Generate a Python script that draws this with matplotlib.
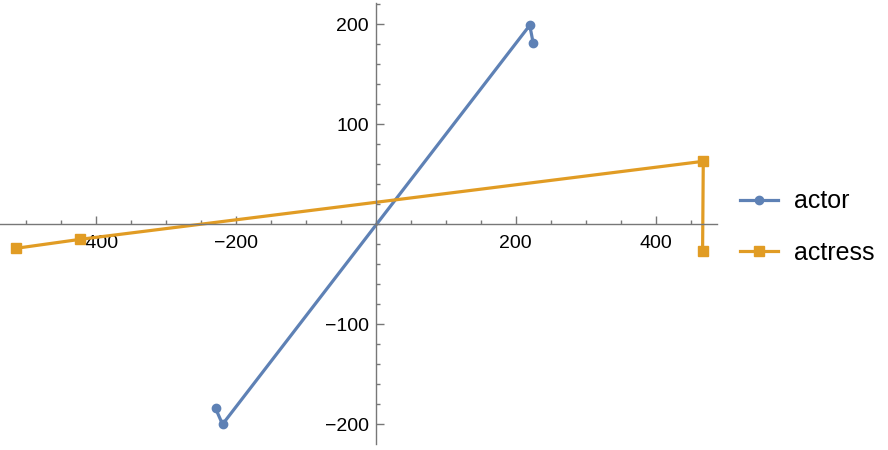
# recria o grafico actor / actress com eixos cruzando na origem
import matplotlib.pyplot as plt
from matplotlib.ticker import MultipleLocator

# dados
actor_x = [-229, -219, 220, 225]
actor_y = [-184, -200, 199, 181]
actress_x = [-514, -422, 468, 467]
actress_y = [-24, -15, 63, -27]

xticks = [-400, -200, 200, 400]
yticks = [-200, -100, 100, 200]

cor_actor = '#5E81B5'
cor_actress = '#E19C24'
cor_eixo = '#777777'

plt.rcParams['font.family'] = ['Liberation Sans', 'DejaVu Sans']

fig = plt.figure(figsize=(8.88, 4.5), dpi=100)
ax = fig.add_axes([0, 6 / 450, 717 / 888, 441 / 450])

ax.plot(actor_x, actor_y, color=cor_actor, lw=2.3, marker='o', ms=6,
        label='actor')
ax.plot(actress_x, actress_y, color=cor_actress, lw=2.3, marker='s', ms=7,
        label='actress')

ax.set_xlim(-537, 487.6)
ax.set_ylim(-219.7, 221.3)

for lado in ['top', 'right']:
    ax.spines[lado].set_visible(False)
for lado in ['left', 'bottom']:
    ax.spines[lado].set_position(('data', 0))
    ax.spines[lado].set_color(cor_eixo)
    ax.spines[lado].set_linewidth(1.0)

ax.set_xticks(xticks)
ax.set_yticks(yticks)
ax.xaxis.set_minor_locator(MultipleLocator(50))
ax.yaxis.set_minor_locator(MultipleLocator(20))
ax.tick_params(which='both', direction='in', color=cor_eixo, width=1.0,
               labelsize=14, pad=5)
ax.tick_params(axis='x', which='major', pad=8)
ax.tick_params(which='major', length=5.5)
ax.tick_params(which='minor', length=3)
ax.patch.set_alpha(0)

fig.legend(loc='center left', bbox_to_anchor=(740 / 888, 1 - 227 / 450),
           frameon=False, fontsize=18, handlelength=1.5, labelspacing=1.1,
           handletextpad=0.65, borderaxespad=0, borderpad=0)

fig.savefig('out.png', dpi=100)
